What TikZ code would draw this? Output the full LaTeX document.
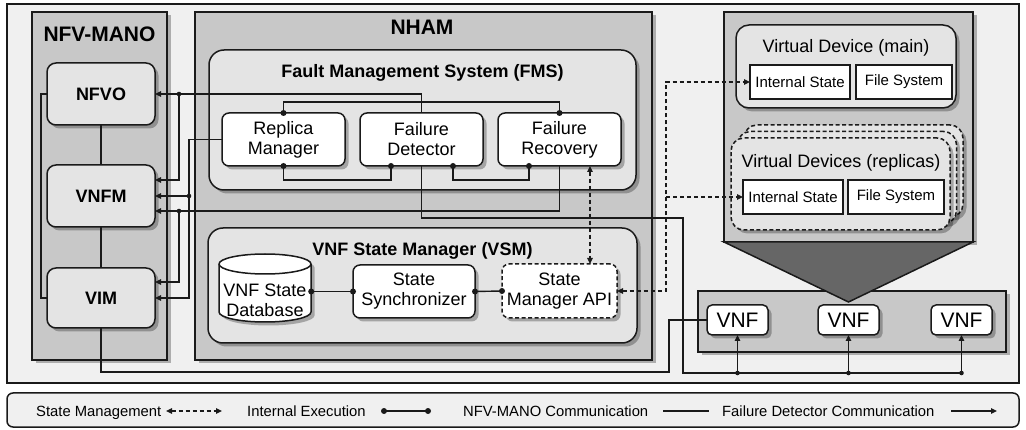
\documentclass[tikz,border=0pt]{standalone}
\usepackage{fontspec}
\setmainfont{Liberation Sans}
\usetikzlibrary{shadows,arrows.meta,calc}
\definecolor{bgc}{HTML}{F0F0F0}
\definecolor{contc}{HTML}{C8C8C8}
\definecolor{innc}{HTML}{E4E4E4}
\definecolor{ink}{HTML}{1A1A1A}
\definecolor{tric}{HTML}{666666}
\newcommand\edot[1]{\fill[ink] (#1) circle (3pt);}
\newcommand\jdot[1]{\fill[ink] (#1) circle (2.3pt);}
\tikzset{
  shad/.style={drop shadow={shadow xshift=3.5pt,shadow yshift=-3.5pt,fill=black,opacity=0.28}},
  bx/.style={draw=ink,line width=1.5pt,inner sep=0pt,outer sep=0pt},
  contbox/.style={bx,fill=contc,shad},
  panel/.style={bx,fill=innc,rounded corners=15pt,shad},
  mano/.style={bx,fill=innc,rounded corners=9pt,shad,minimum width=108pt,minimum height=62pt,font=\fontsize{18}{20}\selectfont\bfseries},
  comp/.style={bx,fill=white,rounded corners=7pt,shad,align=center,minimum width=123pt,minimum height=53pt,font=\fontsize{18}{20}\selectfont},
  sbox/.style={bx,fill=white,minimum height=34pt,font=\fontsize{15}{17}\selectfont},
  vnf/.style={bx,fill=white,rounded corners=5pt,shad,minimum width=61pt,minimum height=30pt,font=\fontsize{21}{24}\selectfont},
  rep/.style={bx,fill=innc,rounded corners=13pt,dash pattern=on 4pt off 2.5pt,shad,minimum width=219pt,minimum height=92pt},
  ttl/.style={anchor=base,font=\fontsize{18}{20}\selectfont\bfseries,inner sep=0pt},
  bigttl/.style={anchor=base,font=\fontsize{21}{24}\selectfont\bfseries,inner sep=0pt},
  subttl/.style={anchor=base,font=\fontsize{18}{20}\selectfont,inner sep=0pt},
  lg/.style={anchor=base west,font=\fontsize{14.8}{16}\selectfont,inner sep=0pt},
  conn/.style={draw=ink,line width=1.4pt},
  ftri/.tip={Triangle[length=6pt,width=5.5pt]},
  arr/.style={conn,-ftri},
  dsh/.style={conn,dash pattern=on 4pt off 3pt},
}
\begin{document}
\begin{tikzpicture}[x=1pt,y=-1pt]
\useasboundingbox (0,0) rectangle (1026,430);
% frames
\node[bx,fill=bgc,minimum width=1012pt,minimum height=379pt] (outer) at (513,193.5) {};
\node[bx,fill=bgc,rounded corners=6pt,minimum width=1012pt,minimum height=34pt] (legend) at (513,410) {};
% containers
\node[contbox,minimum width=135pt,minimum height=348pt] (manoC) at (99.5,186) {};
\node[bigttl] (manoT) at (99.5,41.5) {NFV-MANO};
\node[contbox,minimum width=457pt,minimum height=348pt] (nham) at (423.5,186) {};
\node[bigttl] (nhamT) at (422,35) {NHAM};
\node[contbox,minimum width=249pt,minimum height=230pt] (vdc) at (848.5,127) {};
\node[contbox,minimum width=308pt,minimum height=61pt] (vnfc) at (852,321.5) {};
\coordinate (apex) at (848.5,302);
\draw[bx,fill=tric] (vdc.south west) -- (vdc.south east) -- (apex) -- cycle;
% NFV-MANO
\node[mano] (nfvo) at (101,94) {NFVO};
\node[mano] (vnfm) at (101,196) {VNFM};
\node[mano,minimum height=60pt] (vim) at (101,298) {VIM};
% FMS
\node[panel,minimum width=427pt,minimum height=140pt] (fms) at (422.5,120) {};
\node[ttl] (fmsT) at (422.5,78) {Fault Management System (FMS)};
\node[comp] (rm) at (283.5,139.5) {Replica\\Manager};
\node[comp] (fd) at (421.5,139.5) {Failure\\Detector};
\node[comp] (fr) at (559.5,139.5) {Failure\\Recovery};
% VSM
\node[panel,minimum width=429pt,minimum height=115pt] (vsm) at (422.5,285.5) {};
\node[ttl] (vsmT) at (422.5,256) {VNF State Manager (VSM)};
\begin{scope}[shift={(3.5,3.5)}]
\fill[black,opacity=0.28] (219,264) -- (219,312) arc[start angle=180,end angle=0,x radius=46,y radius=10] -- (311,264) arc[start angle=0,end angle=-180,x radius=46,y radius=10] -- cycle;
\end{scope}
\draw[bx,fill=white] (219,264) -- (219,312) arc[start angle=180,end angle=0,x radius=46,y radius=10] -- (311,264) arc[start angle=0,end angle=-180,x radius=46,y radius=10] -- cycle;
\draw[bx] (219,264) arc[start angle=180,end angle=0,x radius=46,y radius=10];
\node[inner sep=0pt,minimum width=92pt,align=center,font=\fontsize{18}{20}\selectfont] (db) at (265,300) {VNF State\\Database};
\node[comp,minimum width=122pt] (ss) at (414,291.5) {State\\Synchronizer};
\node[comp,dash pattern=on 4pt off 2.5pt,minimum width=115pt,minimum height=54pt] (smapi) at (559.5,291) {State\\Manager API};
% virtual devices
\node[bx,fill=innc,rounded corners=13pt,shad,minimum width=220pt,minimum height=83pt] (vdm) at (846,66.5) {};
\node[subttl] (vdmT) at (846,53) {Virtual Device (main)};
\node[sbox,minimum width=100pt] (ism) at (800,82) {Internal State};
\node[sbox,minimum width=96pt] (fsm) at (904,82) {File System};
\node[rep] (rep3) at (853.5,171) {};
\node[rep] (rep2) at (847,177.5) {};
\node[rep] (rep1) at (840.5,184) {};
\node[subttl] (repT) at (841,168) {Virtual Devices (replicas)};
\node[sbox,minimum width=100pt] (isr) at (793,197) {Internal State};
\node[sbox,minimum width=96pt] (fsr) at (896,197) {File System};
% VNFs
\node[vnf] (vnf1) at (737.5,320) {VNF};
\node[vnf] (vnf2) at (848.5,320) {VNF};
\node[vnf] (vnf3) at (961.5,320) {VNF};
% NFV-MANO communication
\draw[conn] (nfvo.south) -- (vnfm.north);
\draw[conn] (vnfm.south) -- (vim.north);
\draw[conn] (nfvo.west) -- ++(-6,0) |- (vim.west);
\coordinate (vturn) at (669,372);
\draw[conn] (vim.south) |- (vturn) |- (vnf1.west);
% failure detector / MANO links
\coordinate (xa) at (179,0);
\coordinate (xb) at (189,0);
\draw[arr] (fd.north) |- (nfvo.east);
\coordinate (j1) at (xa |- nfvo.east);
\draw[arr] (j1) |- ($(vnfm.east)+(0,-16)$);
\draw[arr] (rm.west) -- (rm.west -| xb) |- (vim.east);
\coordinate (j2) at (xb |- vnfm.east);
\draw[arr] (j2) -- (vnfm.east);
\draw[arr] (fr.south) |- ($(vnfm.east)+(0,15)$);
\coordinate (j3) at ($(xa |- vnfm.east)+(0,15)$);
\draw[arr] (j3) |- ($(vim.east)+(0,-16)$);
\jdot{j1}\jdot{j2}\jdot{j3}
% failure detector communication to VNFs
\coordinate (fdturn) at (683,218);
\coordinate (bus) at (0,373);
\coordinate (k1) at (vnf1.south |- bus);
\coordinate (k2) at (vnf2.south |- bus);
\coordinate (k3) at (vnf3.south |- bus);
\draw[conn] (fd.south) |- (fdturn) |- (k3);
\draw[arr] (k1) -- (vnf1.south);
\draw[arr] (k2) -- (vnf2.south);
\draw[arr] (k3) -- (vnf3.south);
\jdot{k1}\jdot{k2}\jdot{k3}
% internal execution
\coordinate (fdbl) at ($(fd.south)+(-30.5,0)$);
\coordinate (fdbr) at ($(fd.south)+(31.5,0)$);
\coordinate (frbl) at ($(fr.south)+(-30.5,0)$);
\coordinate (frbr) at ($(fr.south)+(30.5,0)$);
\draw[conn] (rm.north) -- ++(0,-11) -| (fr.north);
\draw[conn] (rm.south) -- ++(0,14) -| (fdbl);
\draw[conn] (fdbr) -- ++(0,14) -| (frbl);
\edot{rm.north}\edot{fr.north}\edot{rm.south}\edot{fdbl}\edot{fdbr}\edot{frbl}
\coordinate (dbe) at (ss.west -| db.east);
\draw[conn] (dbe) -- (ss.west);
\draw[conn] (ss.east) -- (smapi.west);
\edot{dbe}\edot{ss.west}\edot{ss.east}\edot{smapi.west}
% state management
\coordinate (smt) at ($(smapi.north)+(30.5,0)$);
\draw[dsh,ftri-ftri] (frbr) -- (smt);
\coordinate (dx) at (666,0);
\draw[dsh,ftri-ftri] (smapi.east) -| (dx |- ism.west) -- (ism.west);
\draw[dsh,-ftri] (dx |- isr.west) -- (isr.west);
% legend
\node[lg] (lsm) at (36,416.5) {State Management};
\coordinate (la1) at (166,411);
\coordinate (la2) at (222,411);
\draw[dsh,ftri-ftri] (la1) -- (la2);
\node[lg] (lie) at (247,416.5) {Internal Execution};
\coordinate (lb1) at (384,411);
\coordinate (lb2) at (428,411);
\draw[conn] (lb1) -- (lb2);
\edot{lb1}\edot{lb2}
\node[lg] (lnm) at (463,416.5) {NFV-MANO Communication};
\coordinate (lc1) at (663,411);
\coordinate (lc2) at (709,411);
\draw[conn] (lc1) -- (lc2);
\node[lg] (lfd) at (722,416.5) {Failure Detector Communication};
\coordinate (ld1) at (951,411);
\coordinate (ld2) at (997,411);
\draw[arr] (ld1) -- (ld2);
\end{tikzpicture}
\end{document}
